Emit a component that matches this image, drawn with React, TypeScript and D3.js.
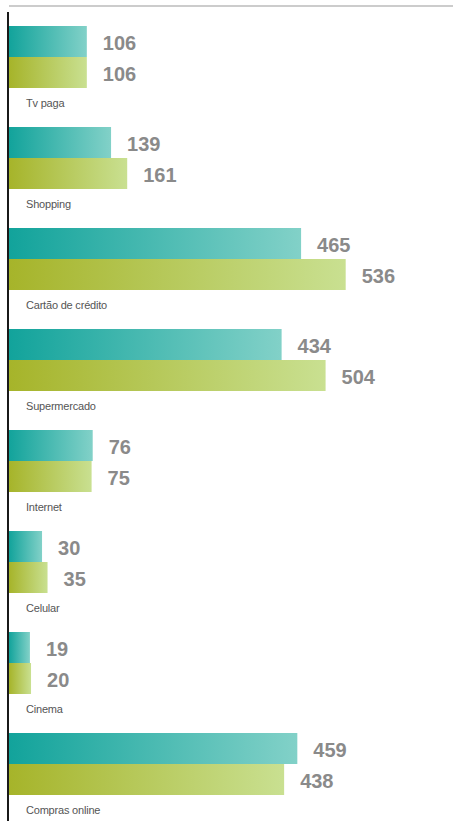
import React from "react";
import * as d3 from "d3";

const categories = [
  "Tv paga",
  "Shopping",
  "Cartão de crédito",
  "Supermercado",
  "Internet",
  "Celular",
  "Cinema",
  "Compras online",
];
const seriesA = [106, 139, 465, 434, 76, 30, 19, 459];
const seriesB = [106, 161, 536, 504, 75, 35, 20, 438];
// the infographic uses a different scale for each group of panels
const scaleMax = [459, 459, 536.5, 536.5, 306, 306, 306, 536.5];

const W = 453;
const H = 821;
const axisX = 8;
const barX = 9;
const barMaxW = 337;

export default function App() {
  const y = d3
    .scaleBand<string>()
    .domain(categories)
    .range([26, 26 + 8 * 101 - 39])
    .paddingInner(39 / 101)
    .paddingOuter(0)
    .align(0);
  const sub = d3
    .scaleBand<string>()
    .domain(["a", "b"])
    .range([0, y.bandwidth()]);

  return (
    <svg
      width={W}
      height={H}
      style={{ position: "absolute", left: 0, top: 0, background: "#fff" }}
    >
      <defs>
        <linearGradient id="gA" x1="0" x2="1" y1="0" y2="0">
          <stop offset="0" stopColor="#12a39b" />
          <stop offset="1" stopColor="#82d1c8" />
        </linearGradient>
        <linearGradient id="gB" x1="0" x2="1" y1="0" y2="0">
          <stop offset="0" stopColor="#a6b42a" />
          <stop offset="1" stopColor="#c9e091" />
        </linearGradient>
      </defs>
      <line x1={9} x2={W} y1={6} y2={6} stroke="#999" strokeWidth={1.2} />
      {categories.map((c, i) => {
        const x = d3.scaleLinear().domain([0, scaleMax[i]]).range([0, barMaxW]);
        const top = y(c)!;
        const rows = [
          { k: "a", v: seriesA[i], fill: "url(#gA)" },
          { k: "b", v: seriesB[i], fill: "url(#gB)" },
        ];
        return (
          <g key={c}>
            {rows.map((r) => {
              const yy = top + sub(r.k)!;
              const w = x(r.v);
              return (
                <g key={r.k}>
                  <rect x={barX} y={yy} width={w} height={sub.bandwidth()} fill={r.fill} />
                  <text
                    x={barX + w + 16}
                    y={yy + sub.bandwidth() / 2 + 1}
                    dominantBaseline="central"
                    fontFamily="Liberation Sans, Arial, sans-serif"
                    fontWeight="bold"
                    fontSize={20}
                    fill="#8a8a8a"
                  >
                    {r.v}
                  </text>
                </g>
              );
            })}
            <text
              x={26}
              y={top + 81}
              fontFamily="Liberation Sans, Arial, sans-serif"
              fontSize={11}
              fill="#555"
              letterSpacing={-0.2}
            >
              {c}
            </text>
          </g>
        );
      })}
      <line x1={axisX} x2={axisX} y1={12} y2={H} stroke="#000" strokeWidth={1.8} />
    </svg>
  );
}
